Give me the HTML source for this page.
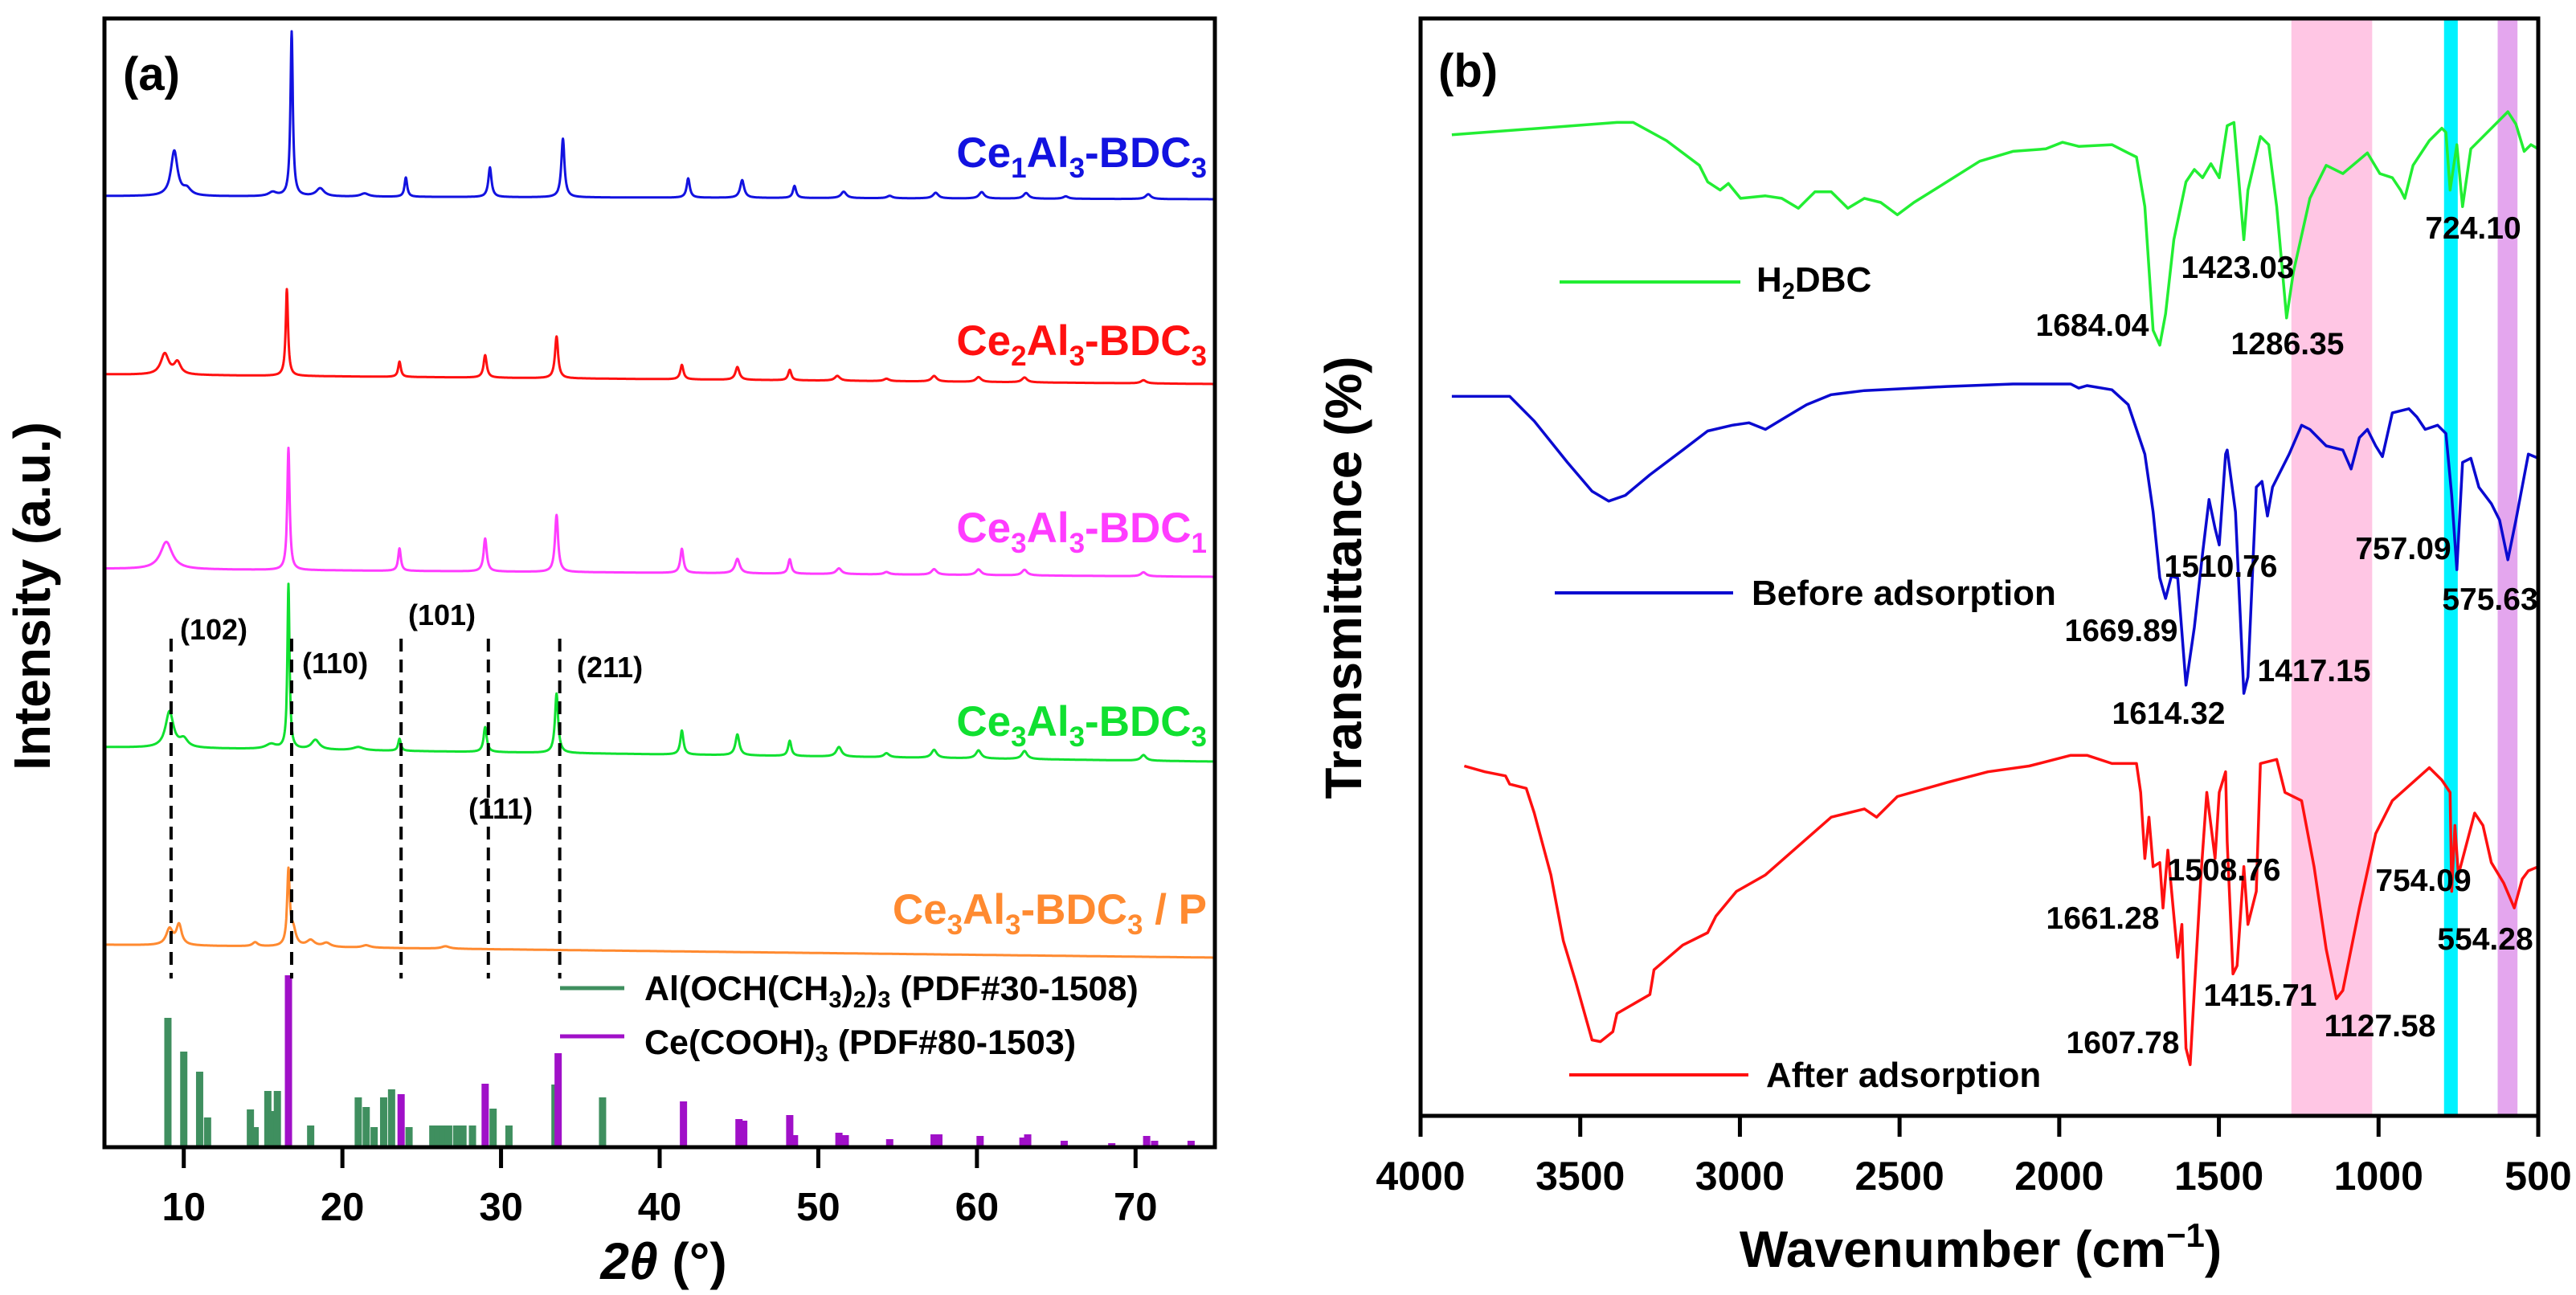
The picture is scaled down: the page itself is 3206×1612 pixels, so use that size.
<!DOCTYPE html>
<html><head><meta charset="utf-8"><style>
html,body{margin:0;padding:0;background:#fff}
svg{display:block;font-family:"Liberation Sans",Arial,sans-serif;font-weight:bold}
</style></head><body>
<svg id="fig" width="3206" height="1612" viewBox="0 0 3206 1612" xmlns="http://www.w3.org/2000/svg">
<g id="pa"></g>
<g id="pb"></g>
</svg>
<script>
// ===== Panel (a) XRD data =====
const xrdTicks=[10,20,30,40,50,60,70];
const blueBase=[1184,1180];
const bluePeaks=[[9.4,56,0.25],[10.2,8,0.3],[15.6,5,0.3],[16.8,205,0.09],[18.6,10,0.3],[21.4,4,0.3],[24.0,24,0.1],[29.3,37,0.12],[33.9,73,0.12],[41.8,24,0.12],[45.2,22,0.15],[48.5,15,0.12],[51.6,8,0.2],[54.5,3,0.2],[57.4,7,0.2],[60.3,8,0.2],[63.1,7,0.2],[65.6,3,0.2],[70.8,6,0.2]];
const redBase=[962,950];
const redPeaks=[[8.8,26,0.3],[9.6,15,0.25],[16.5,108,0.09],[23.6,19,0.1],[29.0,28,0.12],[33.5,52,0.12],[41.4,18,0.12],[44.9,16,0.15],[48.2,13,0.12],[51.2,6,0.2],[54.3,3,0.2],[57.3,7,0.2],[60.1,6,0.2],[63.0,6,0.2],[70.5,4,0.2]];
const magBase=[720,710];
const magPeaks=[[8.9,34,0.45],[16.6,152,0.09],[23.6,28,0.1],[29.0,41,0.12],[33.5,71,0.12],[41.4,30,0.12],[44.9,18,0.18],[48.2,18,0.12],[51.3,7,0.2],[54.3,3,0.2],[57.3,7,0.2],[60.1,7,0.2],[63.0,7,0.2],[70.5,5,0.2]];
const grnBase=[498,480];
const grnPeaks=[[9.1,45,0.3],[10.0,10,0.3],[15.5,6,0.4],[16.6,205,0.08],[18.3,12,0.3],[21.0,4,0.4],[23.6,15,0.1],[29.0,31,0.12],[33.5,74,0.12],[41.4,30,0.12],[44.9,26,0.15],[48.2,19,0.12],[51.3,12,0.2],[54.3,5,0.2],[57.3,10,0.2],[60.1,10,0.2],[63.0,10,0.2],[70.5,7,0.2]];
const orgBase=[252,236];
const orgPeaks=[[9.1,20,0.25],[9.7,25,0.2],[14.5,5,0.2],[16.6,92,0.1],[16.9,20,0.2],[18.0,8,0.3],[19.0,5,0.3],[21.5,3,0.3],[26.5,3,0.3]];
const refAl=[[9.0,161],[10.0,119],[11.0,94],[11.5,37],[14.2,47],[14.5,25],[15.3,70],[15.6,45],[15.9,70],[18.0,27],[21.0,62],[21.5,50],[22.0,25],[22.6,62],[23.1,72],[24.2,25],[25.7,27],[26.0,27],[26.4,27],[26.7,27],[27.2,27],[27.6,27],[28.2,27],[29.5,48],[30.5,27],[33.4,78],[36.4,62]];
const refCe=[[16.6,214],[23.7,66],[29.0,79],[33.6,117],[41.5,57],[45.0,35],[45.3,33],[48.2,40],[48.5,15],[51.3,18],[51.7,15],[54.5,10],[57.3,16],[57.6,16],[60.2,14],[62.9,12],[63.2,16],[65.5,8],[68.5,5],[70.7,14],[71.2,8],[73.5,8]];
const hklPos=[9.2,16.8,23.7,29.2,33.7];

// ===== Panel (b) FTIR data =====
const ftirTicks=[4000,3500,3000,2500,2000,1500,1000,500];
const h2dbcW=[3902,3385,3334,3230,3127,3101,3062,3036,2998,2920,2869,2817,2765,2714,2662,2610,2559,2507,2455,2352,2249,2145,2042,1990,1939,1835,1784,1758,1732,1706,1685,1667,1641,1603,1577,1551,1525,1499,1474,1453,1435,1422,1409,1370,1344,1319,1288,1267,1215,1164,1112,1035,996,957,931,918,892,841,802,789,776,755,737,711,595,570,544,523,500];
const h2dbcT=[1189,1204,1204,1182,1152,1132,1122,1130,1112,1115,1112,1100,1120,1120,1100,1112,1107,1092,1107,1132,1157,1169,1172,1180,1175,1177,1167,1162,1102,952,934,972,1062,1132,1147,1137,1154,1137,1200,1204,1122,1062,1122,1187,1177,1102,967,1022,1112,1152,1142,1167,1142,1137,1122,1112,1152,1182,1197,1192,1122,1177,1102,1172,1217,1202,1169,1177,1172];
const beforeW=[3902,3721,3644,3540,3463,3411,3359,3282,3179,3101,3024,2972,2920,2869,2791,2714,2610,2352,2145,1964,1939,1913,1835,1784,1732,1706,1685,1667,1649,1629,1603,1577,1551,1531,1512,1499,1479,1474,1448,1422,1409,1383,1365,1348,1332,1280,1241,1215,1164,1112,1086,1060,1035,1009,988,957,905,880,854,815,789,771,755,737,711,686,647,621,595,570,531,500];
const beforeT=[872,872,842,792,757,745,752,777,807,830,837,840,832,844,862,874,879,884,887,887,882,885,880,862,802,732,652,627,654,652,522,592,682,747,712,692,802,807,732,512,532,762,769,727,762,802,837,832,812,807,784,822,832,812,799,852,857,847,832,837,827,752,662,792,797,762,742,722,674,722,802,797];
const afterW=[3863,3799,3734,3721,3669,3644,3592,3553,3514,3463,3437,3398,3385,3282,3269,3179,3101,3075,3011,2920,2817,2714,2610,2572,2507,2352,2223,2094,1964,1913,1835,1758,1745,1732,1719,1706,1685,1675,1660,1629,1616,1603,1590,1577,1556,1538,1512,1499,1479,1474,1456,1443,1422,1409,1383,1370,1319,1293,1241,1202,1164,1132,1112,1060,1009,957,841,802,776,771,761,750,699,673,647,608,575,550,531,500];
const afterT=[424,417,412,402,397,367,292,212,162,92,90,102,124,147,177,207,222,242,272,292,327,362,372,362,387,404,417,424,437,437,427,427,392,312,362,302,307,252,322,192,232,82,62,152,292,392,312,392,417,332,172,182,302,232,272,427,432,392,382,302,202,142,152,252,342,382,422,407,392,272,352,292,367,352,307,282,252,287,297,302];
const bands=[[1273,1020,'#ffc6e4','pink-band'],[795,752,'#00f2ff','cyan-band'],[627,565,'#e4a6ee','purple-band']];
const ftirLabels=[['724.10',3078,283],['1423.03',2785,332],['1684.04',2604,404],['1286.35',2847,427],['1510.76',2764,704],['1669.89',2640,784],['1614.32',2699,887],['1417.15',2880,834],['757.09',2991,682],['575.63',3099,745],['1508.76',2768,1082],['1661.28',2617,1142],['1607.78',2642,1297],['1415.71',2813,1238],['1127.58',2962,1276],['754.09',3016,1095],['554.28',3093,1168]];

const NS='http://www.w3.org/2000/svg';
function mk(parent,tag,attrs,text){const e=document.createElementNS(NS,tag);for(const k in attrs)e.setAttribute(k,attrs[k]);if(text!==undefined)e.textContent=text;parent.appendChild(e);return e;}

// ---------- Panel a ----------
const pa=document.getElementById('pa');
const AX0=130,AX1=1512,AY0=23,AY1=1428;
const xa=v=>AX0+(v-5)/(75-5)*(AX1-AX0);
const ya=v=>AY1-v/1405*(AY1-AY0);
function xrdPath(base,peaks){
  let d='';
  for(let t=5;t<=75.0001;t+=0.02){
    let v=base[0]+(base[1]-base[0])*(t-5)/70;
    for(const p of peaks){const w=p[2];v+=p[1]*w*w/((t-p[0])*(t-p[0])+w*w);}
    d+=(d?'L':'M')+xa(t).toFixed(1)+','+ya(v).toFixed(1);
  }
  return d;
}
const series=[[blueBase,bluePeaks,'#1212e0','xrd-ce1al3-bdc3'],[redBase,redPeaks,'#ff1010','xrd-ce2al3-bdc3'],[magBase,magPeaks,'#ff3cff','xrd-ce3al3-bdc1'],[grnBase,grnPeaks,'#10e030','xrd-ce3al3-bdc3'],[orgBase,orgPeaks,'#ff8a30','xrd-ce3al3-bdc3-p']];
for(const s of series){
  const p=mk(pa,'path',{d:xrdPath(s[0],s[1]),fill:'none',stroke:s[2],'stroke-width':3,'stroke-linejoin':'round'});
  
  
}
for(const r of refAl){
  const b=mk(pa,'rect',{x:xa(r[0])-4.5,y:ya(r[1]),width:9,height:AY1-ya(r[1]),fill:'#3f8f5f'});
  
  
}
for(const r of refCe){
  const b=mk(pa,'rect',{x:xa(r[0])-4.5,y:ya(r[1]),width:9,height:AY1-ya(r[1]),fill:'#a010c8'});
  
  
}
for(const h of hklPos){
  const l=mk(pa,'line',{x1:xa(h),x2:xa(h),y1:795,y2:1218,stroke:'#000','stroke-width':4,'stroke-dasharray':'16,10'});
  
  
}
mk(pa,'rect',{x:AX0,y:AY0,width:AX1-AX0,height:AY1-AY0,fill:'none',stroke:'#000','stroke-width':5,});
for(const t of xrdTicks){
  const tk=mk(pa,'line',{x1:xa(t),x2:xa(t),y1:AY1,y2:AY1+26,stroke:'#000','stroke-width':5});
  
  
  const tl=mk(pa,'text',{x:xa(t),y:1519,'font-size':49,'text-anchor':'middle'},String(t));
  
  
}
</script>
<script>
(function(){
const pa=document.getElementById('pa');
pa.insertAdjacentHTML('beforeend',`
<text x="153" y="112" font-size="58">(a)</text>
<text x="1502" y="208" font-size="53" text-anchor="end" fill="#1212e0">Ce<tspan font-size="35" dy="13">1</tspan><tspan dy="-13">Al</tspan><tspan font-size="35" dy="13">3</tspan><tspan dy="-13">-BDC</tspan><tspan font-size="35" dy="13">3</tspan></text>
<text x="1502" y="442" font-size="53" text-anchor="end" fill="#ff1010">Ce<tspan font-size="35" dy="13">2</tspan><tspan dy="-13">Al</tspan><tspan font-size="35" dy="13">3</tspan><tspan dy="-13">-BDC</tspan><tspan font-size="35" dy="13">3</tspan></text>
<text x="1502" y="675" font-size="53" text-anchor="end" fill="#ff3cff">Ce<tspan font-size="35" dy="13">3</tspan><tspan dy="-13">Al</tspan><tspan font-size="35" dy="13">3</tspan><tspan dy="-13">-BDC</tspan><tspan font-size="35" dy="13">1</tspan></text>
<text x="1502" y="916" font-size="53" text-anchor="end" fill="#10e030">Ce<tspan font-size="35" dy="13">3</tspan><tspan dy="-13">Al</tspan><tspan font-size="35" dy="13">3</tspan><tspan dy="-13">-BDC</tspan><tspan font-size="35" dy="13">3</tspan></text>
<text x="1502" y="1150" font-size="53" text-anchor="end" fill="#ff8a30">Ce<tspan font-size="35" dy="13">3</tspan><tspan dy="-13">Al</tspan><tspan font-size="35" dy="13">3</tspan><tspan dy="-13">-BDC</tspan><tspan font-size="35" dy="13">3</tspan><tspan dy="-13"> / P</tspan></text>
<text x="224" y="796" font-size="36">(102)</text>
<text x="376" y="838" font-size="36">(110)</text>
<text x="508" y="778" font-size="36">(101)</text>
<text x="718" y="843" font-size="36">(211)</text>
<text x="583" y="1019" font-size="36">(111)</text>
<line x1="697" y1="1230" x2="777" y2="1230" stroke="#3f8f5f" stroke-width="5"/>
<text x="802" y="1245" font-size="43">Al(OCH(CH<tspan font-size="29" dy="9">3</tspan><tspan dy="-9">)</tspan><tspan font-size="29" dy="9">2</tspan><tspan dy="-9">)</tspan><tspan font-size="29" dy="9">3</tspan><tspan dy="-9"> (PDF#30-1508)</tspan></text>
<line x1="697" y1="1290" x2="777" y2="1290" stroke="#a010c8" stroke-width="5"/>
<text x="802" y="1312" font-size="43">Ce(COOH)<tspan font-size="29" dy="9">3</tspan><tspan dy="-9"> (PDF#80-1503)</tspan></text>
<text x="826" y="1592" font-size="64" text-anchor="middle"><tspan font-style="italic">2θ</tspan> (°)</text>
<text transform="translate(62,742) rotate(-90)" font-size="64" text-anchor="middle">Intensity (a.u.)</text>
`);
})();

(function(){
const pb=document.getElementById('pb');
const BX0=1768,BX1=3159,BY0=23,BY1=1389;
const xb=w=>BX0+(4000-w)/3500*(BX1-BX0);
const yb=t=>BY1-t/1330*(BY1-BY0);
for(const b of bands){
  const r=mk(pb,'rect',{x:xb(b[0]),y:BY0,width:xb(b[1])-xb(b[0]),height:BY1-BY0,fill:b[2]});
  
  
}
const curves=[[h2dbcW,h2dbcT,'#22ee33','ftir-h2dbc'],[beforeW,beforeT,'#0a0ad0','ftir-before-adsorption'],[afterW,afterT,'#ff1010','ftir-after-adsorption']];
for(const c of curves){
  let d='';
  for(let i=0;i<c[0].length;i++)d+=(i?'L':'M')+xb(c[0][i]).toFixed(1)+','+yb(c[1][i]).toFixed(1);
  const p=mk(pb,'path',{d:d,fill:'none',stroke:c[2],'stroke-width':3.5,'stroke-linejoin':'round'});
  
  
}
for(const l of ftirLabels){
  const t=mk(pb,'text',{x:l[1],y:l[2]+14,'font-size':39,'text-anchor':'middle'},l[0]);
  
  
}
mk(pb,'rect',{x:BX0,y:BY0,width:BX1-BX0,height:BY1-BY0,fill:'none',stroke:'#000','stroke-width':5,});
for(const t of ftirTicks){
  const tk=mk(pb,'line',{x1:xb(t),x2:xb(t),y1:BY1,y2:BY1+26,stroke:'#000','stroke-width':5});
  
  
  const tl=mk(pb,'text',{x:xb(t),y:1481,'font-size':50,'text-anchor':'middle'},String(t));
  
  
}
pb.insertAdjacentHTML('beforeend',`
<text x="1790" y="108" font-size="58">(b)</text>
<line x1="1941" y1="351" x2="2166" y2="351" stroke="#22ee33" stroke-width="4"/>
<text x="2186" y="363" font-size="44">H<tspan font-size="29" dy="9">2</tspan><tspan dy="-9">DBC</tspan></text>
<line x1="1935" y1="738" x2="2157" y2="738" stroke="#0a0ad0" stroke-width="4"/>
<text x="2180" y="753" font-size="44">Before adsorption</text>
<line x1="1953" y1="1338" x2="2176" y2="1338" stroke="#ff1010" stroke-width="4"/>
<text x="2198" y="1353" font-size="44">After adsorption</text>
<text x="2465" y="1577" font-size="64" text-anchor="middle">Wavenumber (cm<tspan font-size="42" dy="-25">−1</tspan><tspan dy="25">)</tspan></text>
<text transform="translate(1694,719) rotate(-90)" font-size="64" text-anchor="middle">Transmittance (%)</text>
`);
})();
</script>
</body></html>
